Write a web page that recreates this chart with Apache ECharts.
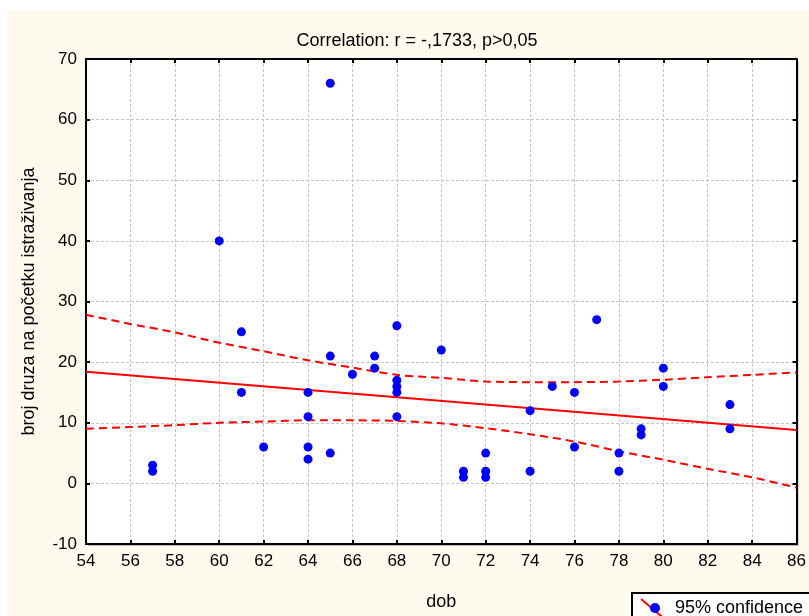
<!DOCTYPE html>
<html>
<head>
<meta charset="utf-8">
<script src="https://cdn.jsdelivr.net/npm/echarts@6/dist/echarts.min.js"></script>
<style>
  html, body { margin: 0; padding: 0; background: #fff; }
  #chart { width: 809px; height: 616px; }
</style>
</head>
<body>
<div id="chart"></div>
<script>
// dob (x) and broj druza (y) for each subject
const ageX = [57, 57, 60, 61, 61, 62, 64, 64, 64, 64, 65, 65, 65, 66, 67, 67,
  68, 68, 68, 68, 68, 70, 71, 71, 72, 72, 72, 74, 74, 75, 76, 76, 77, 78, 78,
  79, 79, 80, 80, 83, 83]
const countY = [3, 2, 40, 25, 15, 6, 15, 11, 6, 4, 66, 21, 5, 18, 21, 19,
  26, 17, 16, 15, 11, 22, 2, 1, 5, 2, 1, 12, 2, 16, 15, 6, 27, 5, 2,
  9, 8, 19, 16, 13, 9]

// regression line end points
const regX = [54, 86]
const regY = [18.4, 8.8]

const bandX = [54, 56, 58, 60, 62, 64, 66, 68, 70, 72, 74, 76, 78, 80, 82, 84, 86]
const bandUpper = [27.8, 26.3, 24.9, 23.2, 21.8, 20.3, 19.1, 17.9, 17.4, 16.8, 16.7, 16.7, 16.8, 17.1, 17.5, 17.9, 18.3]
const bandLower = [9.0, 9.3, 9.6, 10.0, 10.2, 10.4, 10.4, 10.3, 9.9, 9.1, 8.1, 6.9, 5.3, 3.9, 2.4, 1.0, -0.7]

const titleText = 'Correlation: r = -,1733, p>0,05'
const xName = 'dob'
const yName = 'broj druza na početku istraživanja'
const legendText = '95% confidence'

const font = 'Liberation Sans, Arial, sans-serif'
const chart = echarts.init(document.getElementById('chart'))

const gridLine = { show: true, lineStyle: { color: '#c4c4c4', type: [3, 2], width: 1 } }
const boxLine = { show: true, onZero: false, lineStyle: { color: '#000', width: 2 } }
const tick = { show: true, inside: true, length: 4, lineStyle: { color: '#000', width: 2 } }

chart.setOption({
  backgroundColor: '#ffffff',
  animation: false,
  textStyle: { fontFamily: font },
  title: {
    text: titleText,
    left: 412,
    top: 27,
    textAlign: 'center',
    textStyle: { fontFamily: font, fontSize: 18, fontWeight: 'normal', color: '#000' }
  },
  graphic: [
    { type: 'rect', z: -10, shape: { x: 7, y: 10, width: 802, height: 606 }, style: { fill: '#fefaee' } },
    {
      type: 'group',
      left: 631,
      top: 592,
      children: [
        { type: 'rect', shape: { x: 0, y: 0, width: 190, height: 40 }, style: { fill: '#fff', stroke: '#000', lineWidth: 2 } },
        { type: 'line', shape: { x1: 9, y1: 6, x2: 35, y2: 28 }, style: { stroke: '#ff0000', lineWidth: 2 } },
        { type: 'circle', shape: { cx: 23, cy: 15, r: 5 }, style: { fill: '#0000ff' } },
        { type: 'text', style: { x: 43, y: 15, text: legendText, fontFamily: font, fontSize: 18, fill: '#000', verticalAlign: 'middle' } }
      ]
    }
  ],
  grid: {
    left: 86,
    top: 59,
    right: 11.5,
    bottom: 69.5,
    show: true,
    backgroundColor: '#fff',
    borderWidth: 0,
    shadowColor: 'rgba(0,0,0,0.25)',
    shadowOffsetX: 2,
    shadowOffsetY: 2
  },
  xAxis: [{
    type: 'value',
    min: 54,
    max: 86,
    interval: 2,
    name: xName,
    nameLocation: 'middle',
    nameGap: 49,
    nameTextStyle: { fontFamily: font, fontSize: 18, color: '#000' },
    axisLine: boxLine,
    axisTick: tick,
    axisLabel: { fontFamily: font, fontSize: 17, color: '#000', margin: 9 },
    splitLine: gridLine
  }, {
    type: 'value',
    position: 'top',
    min: 54,
    max: 86,
    interval: 2,
    axisLine: boxLine,
    axisTick: tick,
    axisLabel: { show: false },
    splitLine: { show: false }
  }],
  yAxis: [{
    type: 'value',
    min: -10,
    max: 70,
    interval: 10,
    name: yName,
    nameLocation: 'middle',
    nameGap: 48,
    nameTextStyle: { fontFamily: font, fontSize: 18, color: '#000' },
    axisLine: boxLine,
    axisTick: tick,
    axisLabel: { fontFamily: font, fontSize: 17, color: '#000', margin: 9 },
    splitLine: gridLine
  }, {
    type: 'value',
    position: 'right',
    min: -10,
    max: 70,
    interval: 10,
    axisLine: boxLine,
    axisTick: tick,
    axisLabel: { show: false },
    splitLine: { show: false }
  }],
  series: [
    {
      name: 'upper',
      type: 'line',
      data: bandX.map((x, i) => [x, bandUpper[i]]),
      showSymbol: false,
      smooth: 0.3,
      lineStyle: { color: '#ff0000', width: 2, type: [8, 5] },
      z: 3
    },
    {
      name: 'lower',
      type: 'line',
      data: bandX.map((x, i) => [x, bandLower[i]]),
      showSymbol: false,
      smooth: 0.3,
      lineStyle: { color: '#ff0000', width: 2, type: [8, 5] },
      z: 3
    },
    {
      name: 'fit',
      type: 'line',
      data: regX.map((x, i) => [x, regY[i]]),
      showSymbol: false,
      lineStyle: { color: '#ff0000', width: 2 },
      z: 3
    },
    {
      name: 'data',
      type: 'scatter',
      data: ageX.map((x, i) => [x, countY[i]]),
      symbolSize: 9,
      itemStyle: { color: '#0000ff', opacity: 1 },
      z: 4
    }
  ]
})
</script>
</body>
</html>
